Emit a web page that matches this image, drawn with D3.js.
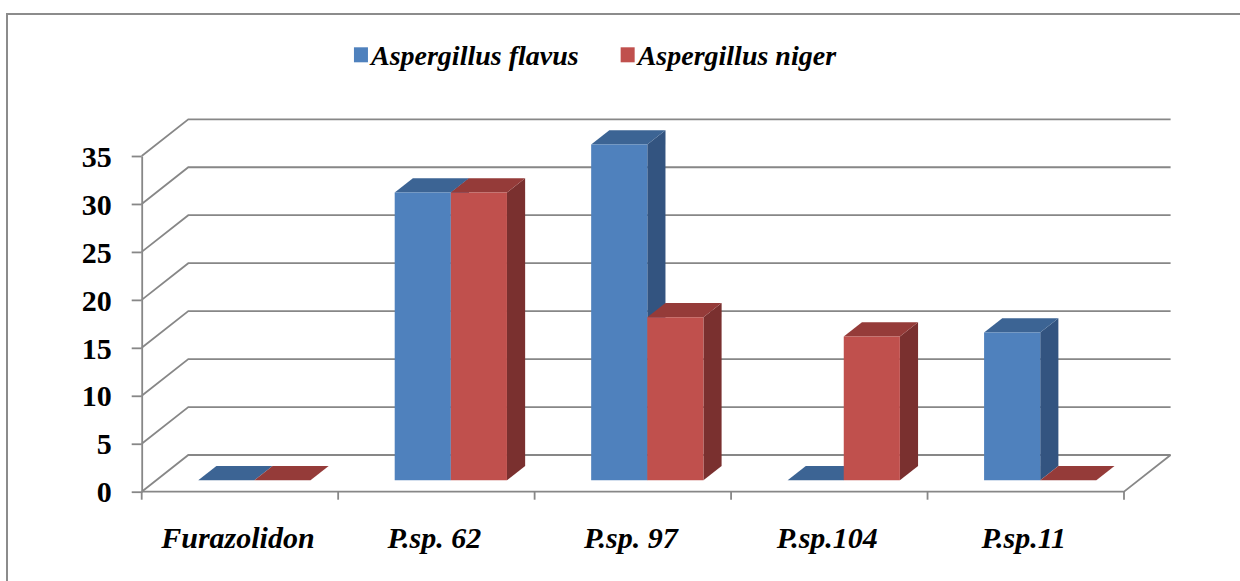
<!DOCTYPE html>
<html>
<head>
<meta charset="utf-8">
<script src="https://d3js.org/d3.v7.min.js"></script>
<style>
  body { margin: 0; background: #fff; }
  svg { display: block; }
</style>
</head>
<body>
<div id="chart"></div>
<script>
// data
var categories = ["Furazolidon", "P.sp. 62", "P.sp. 97", "P.sp.104", "P.sp.11"];
var seriesNames = ["Aspergillus flavus", "Aspergillus niger"];
var flavus = [0, 30, 35, 0, 15.4];
var niger = [0, 30, 17, 15, 0];
var yTicks = [0, 5, 10, 15, 20, 25, 30, 35];

var W = 1240, H = 581;
var FONT = "'Liberation Serif', 'Times New Roman', serif";

var colors = {
  front: ["#4f81bd", "#c0504d"],
  top:   ["#3c6494", "#953b39"],
  side:  ["#335480", "#7a302f"]
};
var gridColor = "#878787";

var svg = d3.select("#chart").append("svg")
  .attr("width", W).attr("height", H)
  .style("font-family", FONT);

// outer frame
svg.append("rect")
  .attr("x", 7).attr("y", 14)
  .attr("width", W + 20).attr("height", H + 20)
  .attr("fill", "none").attr("stroke", "#8c8c8c").attr("stroke-width", 2);

// front plane scales
var left = 141.7, right = 1124;
var y = d3.scaleLinear().domain([0, 35]).range([491.7, 156]);
var x0 = d3.scaleBand().domain(categories).range([left, right]).padding(0);
var bw = x0.bandwidth();
var gap = bw * 1.5 / 3.5;
var x1 = d3.scaleBand().domain(seriesNames).range([gap / 2, bw - gap / 2]).padding(0);

// depth vector (full depth of the floor)
var DX = 46.6, DY = -36.7;
function proj(px, v, d) { return [px + d * DX, y(v) + d * DY]; }

// back wall + side wall gridlines
var grid = svg.append("g")
  .attr("fill", "none").attr("stroke", gridColor).attr("stroke-width", 1.8);
yTicks.forEach(function(t) {
  var a = proj(left, t, 0), b = proj(left, t, 1), c = proj(right, t, 1);
  grid.append("path").attr("d", d3.line()([a, b, c]));
});

// floor edges
var f1 = proj(left, 0, 0), f2 = proj(right, 0, 0), f3 = proj(right, 0, 1);
grid.append("path").attr("d", d3.line()([f1, f2, f3]));
d3.range(categories.length + 1).forEach(function(i) {
  var px = left + i * bw;
  grid.append("line")
    .attr("x1", px).attr("x2", px)
    .attr("y1", y(0)).attr("y2", y(0) + 8);
});

// y axis
var yAxis = svg.append("g")
  .attr("transform", "translate(" + left + ",0)")
  .call(d3.axisLeft(y).tickValues(yTicks).tickSize(10).tickSizeOuter(0).tickPadding(20));
yAxis.attr("font-family", null).style("font-family", FONT);
yAxis.select(".domain").attr("stroke", gridColor).attr("stroke-width", 1.8);
yAxis.selectAll(".tick line").attr("stroke", gridColor).attr("stroke-width", 1.8);
yAxis.selectAll(".tick text")
  .style("font-family", FONT)
  .attr("font-weight", "bold")
  .attr("font-size", 30)
  .attr("fill", "#000")
  .attr("dy", "0.34em");

// bars
var dFront = 0.31, dBack = 0.70;
var values = [flavus, niger];
var bars = svg.append("g");
categories.forEach(function(cat, ci) {
  seriesNames.forEach(function(s, si) {
    var v = values[si][ci];
    var xl = x0(cat) + x1(s), xr = xl + x1.bandwidth();
    var fbl = proj(xl, 0, dFront), fbr = proj(xr, 0, dFront);
    var ftl = proj(xl, v, dFront), ftr = proj(xr, v, dFront);
    var btl = proj(xl, v, dBack), btr = proj(xr, v, dBack);
    var bbr = proj(xr, 0, dBack);
    var g = bars.append("g");
    g.append("path")
      .attr("d", d3.line()([fbr, ftr, btr, bbr]) + "Z")
      .attr("fill", colors.side[si]);
    g.append("path")
      .attr("d", d3.line()([ftl, ftr, btr, btl]) + "Z")
      .attr("fill", colors.top[si]);
    if (v > 0) {
      g.append("path")
        .attr("d", d3.line()([fbl, fbr, ftr, ftl]) + "Z")
        .attr("fill", colors.front[si]);
    }
  });
});

// category labels
svg.append("g").selectAll("text")
  .data(categories).enter()
  .append("text")
  .attr("x", function(d) { return x0(d) + bw / 2 - 2; })
  .attr("y", 548)
  .attr("text-anchor", "middle")
  .style("font-family", FONT)
  .attr("font-weight", "bold")
  .attr("font-style", "italic")
  .attr("font-size", 30)
  .text(function(d) { return d; });

// legend, centred
var legend = svg.append("g");
var items = legend.selectAll("g").data(seriesNames).enter().append("g");
items.append("rect")
  .attr("width", 14).attr("height", 15)
  .attr("y", 47.3)
  .attr("fill", function(d, i) { return colors.front[i]; });
items.append("text")
  .attr("x", 17).attr("y", 65)
  .style("font-family", FONT)
  .attr("font-weight", "bold")
  .attr("font-style", "italic")
  .attr("font-size", 28)
  .text(function(d) { return d; });
var widths = [];
items.each(function() {
  widths.push(17 + d3.select(this).select("text").node().getComputedTextLength());
});
var spacing = 42;
var total = d3.sum(widths) + spacing * (widths.length - 1);
var cx = 595 - total / 2;
items.attr("transform", function(d, i) {
  var off = cx + d3.sum(widths.slice(0, i)) + spacing * i;
  return "translate(" + off + ",0)";
});
</script>
</body>
</html>
